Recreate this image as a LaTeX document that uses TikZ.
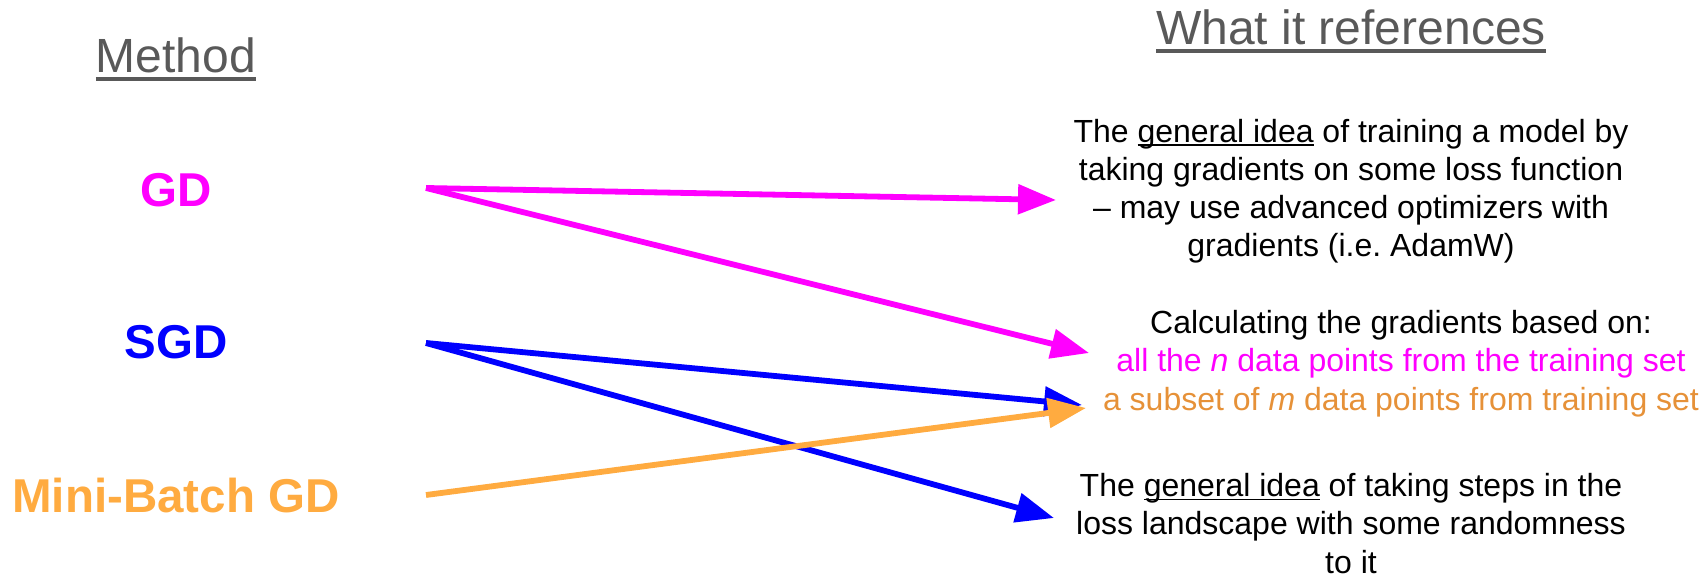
\documentclass[tikz,border=0pt]{standalone}
\usepackage{fontspec}
\setmainfont{Liberation Sans}
\usetikzlibrary{arrows.meta}
\definecolor{hdgray}{HTML}{595959}
\definecolor{mag}{HTML}{FF00FF}
\definecolor{blu}{HTML}{0000FF}
\definecolor{org}{HTML}{FFAB40}
\definecolor{orgtxt}{HTML}{E69138}
\newcommand\myul[3]{{\setbox0\hbox{#3}\rlap{\rule[-#2]{\wd0}{#1}}\box0}}
\frenchspacing
\begin{document}
\begin{tikzpicture}[x=1pt,y=-1pt,
  heading/.style={anchor=base, text=hdgray, font=\fontsize{48}{57}\selectfont, inner sep=0pt},
  methodlbl/.style={anchor=base, font=\fontsize{47.5}{57}\selectfont\bfseries, inner sep=0pt},
  desc/.style={anchor=base, align=center, font=\fontsize{32}{38.3}\selectfont, inner sep=0pt},
  conn/.style={line width=5.8pt, -{Triangle[length=38pt,width=29pt]}}]
\path[use as bounding box] (0,0) rectangle (1706,577);

% headings
\node[heading] (hmethod) at (176,73) {\myul{4pt}{8pt}{Method}};
\node[heading] (href) at (1351,45) {\myul{4pt}{8pt}{What it references}};

% method labels
\node[methodlbl, text=mag] (gd) at (176,207) {GD};
\node[methodlbl, text=blu] (sgd) at (176,359) {SGD};
\node[methodlbl, text=org] (mb) at (176,512) {Mini-Batch GD};

% descriptions (base anchor = baseline of last line)
\node[desc] (d1) at (1351,257) {The \myul{1.6pt}{4pt}{general idea} of training a model by\\
taking gradients on some loss function\\
– may use advanced optimizers with\\
gradients (i.e. AdamW)};
\node[desc] (d2) at (1401,410) {Calculating the gradients based on:\\
\textcolor{mag}{all the \textit{n} data points from the training set}\\
\textcolor{orgtxt}{a subset of \textit{m} data points from training set}};
\node[desc] (d3) at (1351,573) {The \myul{1.6pt}{4pt}{general idea} of taking steps in the\\
loss landscape with some randomness\\
to it};

% connector end points
\coordinate (gdout) at (426,188);
\coordinate (sgdout) at (426,343);
\coordinate (mbout) at (426,495);
\coordinate (d1in) at (1056,200);
\coordinate (d2inA) at (1089,353);
\coordinate (d2inB) at (1082,405);
\coordinate (d2inC) at (1086,408);
\coordinate (d3in) at (1054,518);

\draw[conn, mag] (gdout) -- (d1in);
\draw[conn, mag] (gdout) -- (d2inA);
\draw[conn, blu] (sgdout) -- (d2inB);
\draw[conn, blu] (sgdout) -- (d3in);
\draw[conn, org] (mbout) -- (d2inC);
\end{tikzpicture}
\end{document}
